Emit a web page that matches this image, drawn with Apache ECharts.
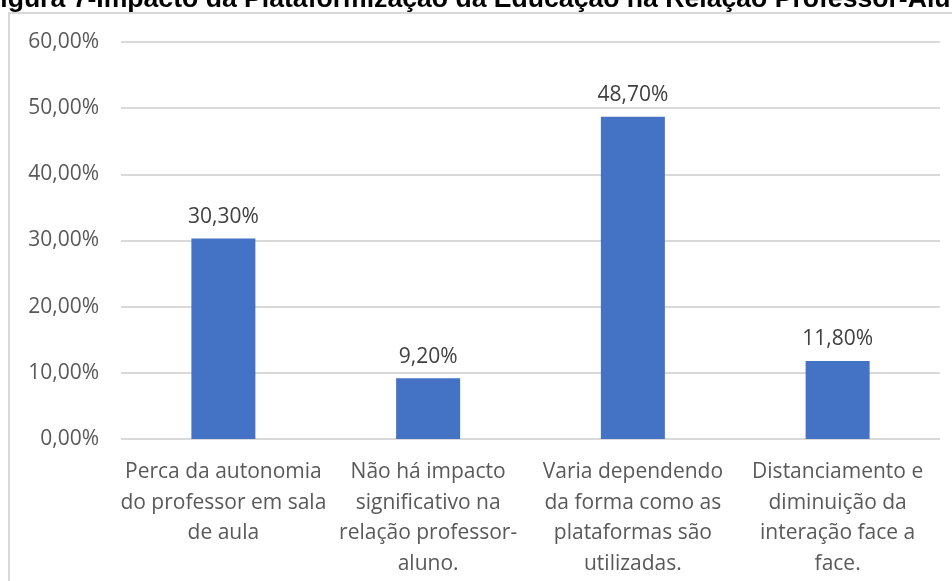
<!DOCTYPE html>
<html>
<head>
<meta charset="utf-8">
<script src="https://cdn.jsdelivr.net/npm/echarts@6/dist/echarts.min.js"></script>
<style>
  html, body { margin: 0; padding: 0; background: #fff; }
  #chart { width: 952px; height: 581px; }
</style>
</head>
<body>
<div id="chart"></div>
<script>
// dados
const categories = [
  'Perca da autonomia\ndo professor em sala\nde aula',
  'Não há impacto\nsignificativo na\nrelação professor-\naluno.',
  'Varia dependendo\nda forma como as\nplataformas são\nutilizadas.',
  'Distanciamento e\ndiminuição da\ninteração face a\nface.',
]
const values = [30.3, 9.2, 48.7, 11.8]
const yTicks = [0, 10, 20, 30, 40, 50, 60]
const titleText = 'Figura 7-Impacto da Plataformização da Educação na Relação Professor-Aluno'

const fmtPct = (v) => v.toFixed(2).replace('.', ',') + '%'
const font = "'Open Sans', sans-serif"

const chart = echarts.init(document.getElementById('chart'), null, { renderer: 'canvas' })

chart.setOption({
  animation: false,
  backgroundColor: '#fff',
  title: {
    text: titleText,
    left: -16,
    top: -14,
    padding: 0,
    textStyle: {
      fontFamily: "'Liberation Sans', Arial, sans-serif",
      fontWeight: 'bold',
      fontSize: 26.6,
      color: '#000',
    },
  },
  graphic: [
    {
      type: 'rect',
      silent: true,
      z: -1,
      shape: { x: 9, y: 13, width: 1100, height: 1000 },
      style: { fill: 'none', stroke: '#d9d9d9', lineWidth: 2 },
    },
  ],
  grid: { left: 121, right: 12, top: 42, bottom: 142, containLabel: false },
  xAxis: {
    type: 'category',
    data: categories,
    axisLine: { show: false },
    axisTick: { show: false },
    axisLabel: {
      interval: 0,
      margin: 18,
      color: '#595959',
      fontFamily: font,
      fontSize: 21,
      lineHeight: 30.5,
      align: 'center',
    },
  },
  yAxis: {
    type: 'value',
    min: yTicks[0],
    max: yTicks[yTicks.length - 1],
    interval: 10,
    axisLine: { show: false },
    axisTick: { show: false },
    axisLabel: {
      margin: 22,
      color: '#595959',
      fontFamily: font,
      fontSize: 21,
      formatter: (v) => fmtPct(v),
    },
    splitLine: { lineStyle: { color: '#d9d9d9', width: 2 } },
  },
  series: [
    {
      type: 'bar',
      data: values,
      barWidth: 64,
      itemStyle: { color: '#4472C4' },
      label: {
        show: true,
        position: 'top',
        distance: 11,
        color: '#404040',
        fontFamily: font,
        fontSize: 21,
        formatter: (p) => fmtPct(p.value),
      },
    },
  ],
})
</script>
</body>
</html>
